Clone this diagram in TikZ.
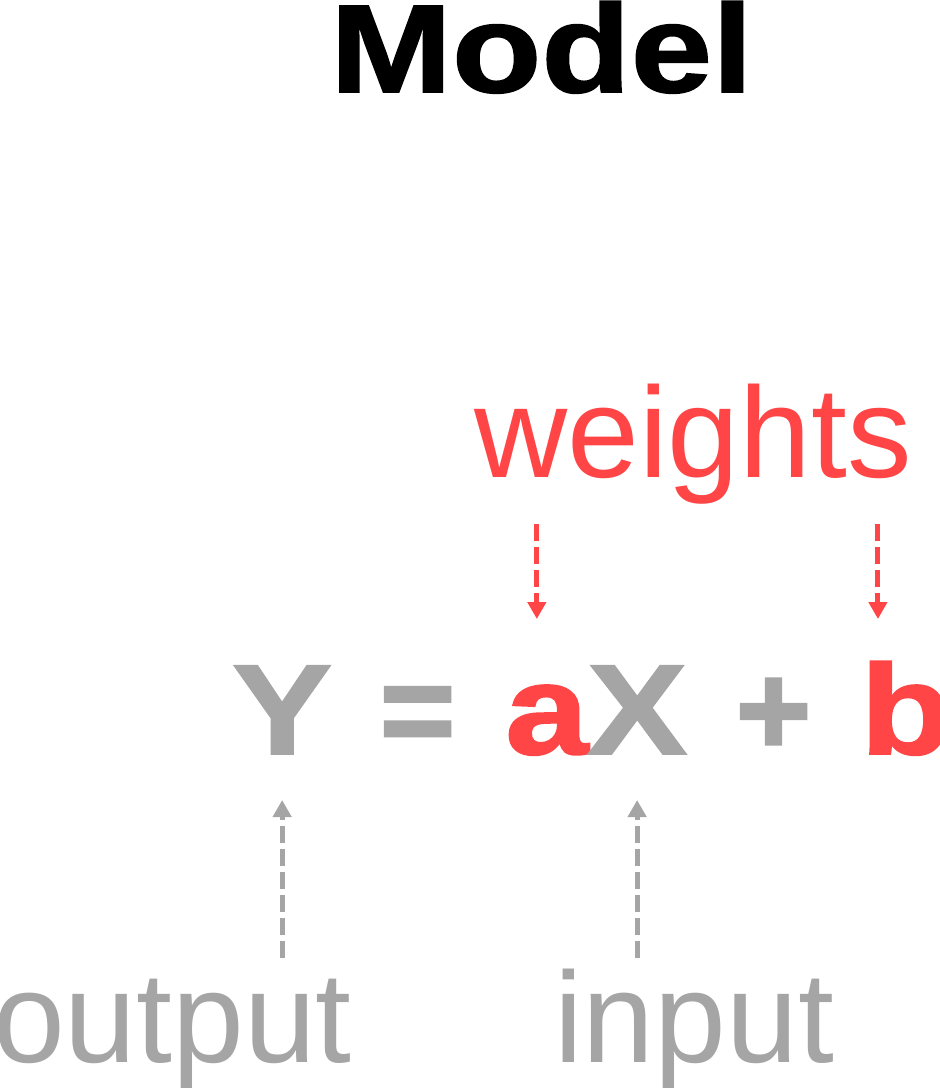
\documentclass[tikz,border=0pt]{standalone}
\usepackage{fontspec}
\setmainfont{Liberation Sans}
\newfontfamily\heavyfont{Liberation Sans}[FakeStretch=1.17,FakeBold=1.5]
\newfontfamily\signfont{Liberation Sans}[FakeBold=2.5]
\usetikzlibrary{arrows.meta}
\definecolor{wred}{RGB}{255,69,69}
\definecolor{lgray}{RGB}{165,165,165}

\begin{document}
\begin{tikzpicture}[x=1pt,y=1pt,
	term/.style={anchor=base west,inner sep=0pt,font=\heavyfont\bfseries\fontsize{128}{128}\selectfont},
	sign/.style={anchor=base west,inner sep=0pt,text=lgray,font=\signfont\bfseries\fontsize{128}{128}\selectfont},
	word/.style={anchor=base west,inner sep=0pt,font=\fontsize{129}{129}\selectfont},
	link/.style={line width=5pt,dash pattern=on 17pt off 6pt,-{Triangle[width=18pt,length=17pt]}}]
	\useasboundingbox (0,0) rectangle (940,-1088);
	\clip (0,0) rectangle (940,-1088);
	% title
	\node[anchor=base west,inner sep=0pt,font=\heavyfont\bfseries\fontsize{125}{125}\selectfont] (title) at (330,-92) {Model};
	% the equation
	\node[term,text=lgray] (Y) at (232,-754) {Y};
	\node[sign] (eq) at (380,-754) {=};
	\node[term,text=wred] (a) at (505,-754) {a};
	\node[term,text=lgray] (X) at (587,-754) {X};
	\node[sign] (plus) at (736,-754) {+};
	\node[term,text=wred] (b) at (860,-754) {b};
	% labels
	\node[word,text=wred] (weights) at (474,-477) {weights};
	\node[word,text=lgray] (output) at (-7,-1062) {output};
	\node[word,text=lgray] (input) at (554,-1062) {input};
	% arrows
	\draw[link,wred] ([xshift=-10,yshift=230]a.base) -- ([xshift=-10,yshift=135]a.base);
	\draw[link,wred] ([xshift=-28,yshift=230]b.base) -- ([xshift=-28,yshift=135]b.base);
	\draw[link,lgray] ([yshift=-204]Y.base) -- ([yshift=-46]Y.base);
	\draw[link,lgray] ([yshift=-204]X.base) -- ([yshift=-46]X.base);
\end{tikzpicture}
\end{document}
